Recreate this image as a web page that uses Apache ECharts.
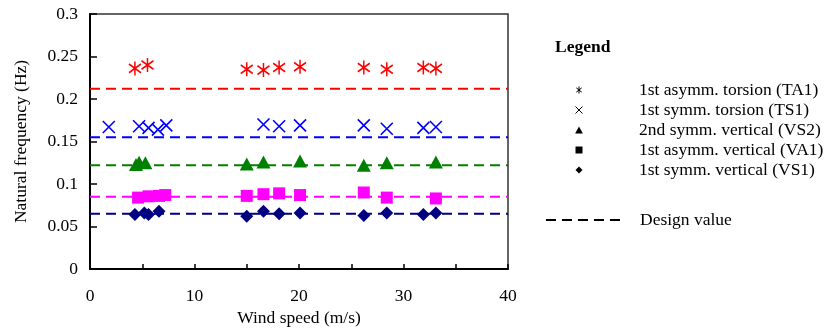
<!DOCTYPE html>
<html>
<head>
<meta charset="utf-8">
<script src="https://cdn.jsdelivr.net/npm/echarts@6.0.0/dist/echarts.min.js"></script>
<style>
  html, body { margin: 0; padding: 0; background: #fff; }
  #main { width: 828px; height: 329px; }
</style>
</head>
<body>
<div id="main"></div>
<script>
var dom = document.getElementById('main');
var myChart = echarts.init(dom);

// mode names
var modeNames = ['1st asymm. torsion (TA1)', '1st symm. torsion (TS1)', '2nd symm. vertical (VS2)',
                 '1st asymm. vertical (VA1)', '1st symm. vertical (VS1)'];

// measured points, wind speed (m/s) and frequency (Hz)
var windTA1 = [4.3, 5.5, 15.0, 16.6, 18.1, 20.1, 26.2, 28.4, 31.9, 33.1];
var freqTA1 = [0.236, 0.240, 0.235, 0.234, 0.237, 0.238, 0.237, 0.235, 0.237, 0.236];

var windTS1 = [1.8, 4.7, 5.6, 6.5, 7.3, 16.6, 18.1, 20.1, 26.2, 28.4, 31.9, 33.1];
var freqTS1 = [0.167, 0.168, 0.166, 0.164, 0.169, 0.170, 0.168, 0.169, 0.169, 0.165, 0.166, 0.167];

var windVS2 = [4.4, 4.7, 5.3, 15.0, 16.6, 20.1, 26.2, 28.4, 33.1];
var freqVS2 = [0.123, 0.1255, 0.125, 0.1235, 0.126, 0.127, 0.122, 0.125, 0.126];

var windVA1 = [4.6, 5.6, 6.6, 7.2, 15.0, 16.6, 18.1, 20.1, 26.2, 28.4, 33.1];
var freqVA1 = [0.084, 0.0855, 0.086, 0.087, 0.086, 0.088, 0.089, 0.087, 0.090, 0.084, 0.083];

var windVS1 = [4.3, 5.2, 5.6, 6.6, 15.0, 16.6, 18.1, 20.1, 26.2, 28.4, 31.9, 33.1];
var freqVS1 = [0.064, 0.066, 0.064, 0.068, 0.062, 0.068, 0.065, 0.066, 0.063, 0.066, 0.064, 0.066];

// design values, same order as modes
var designValues = [0.212, 0.155, 0.122, 0.085, 0.065];

var xTicks = [0, 10, 20, 30, 40];

var colors = ['#ff0000', '#0000ff', '#008000', '#ff00ff', '#000080'];
var symbols = [
  'path://M5,0L5,13M0,2.5L10,10.5M0,10.5L10,2.5',
  'path://M0,0L10,10M0,10L10,0',
  'path://M5,0L10,9L0,9Z',
  'path://M0,0L10,0L10,10L0,10Z',
  'path://M5,0L10,5L5,10L0,5Z'
];
var symbolSizes = [[12, 14], 12, [14, 13], 12, 13];
var stroked = [true, true, false, false, false];

var winds = [windTA1, windTS1, windVS2, windVA1, windVS1];
var freqs = [freqTA1, freqTS1, freqVS2, freqVA1, freqVS1];

var font = 'Liberation Serif';

function pairs(xs, ys) {
  return xs.map(function (x, i) { return [x, ys[i]]; });
}

var series = [];
// design lines first so markers sit on top
designValues.forEach(function (v, i) {
  series.push({
    name: 'Design value',
    type: 'line',
    symbol: 'none',
    silent: true,
    z: 1,
    data: [[0, v], [40, v]],
    lineStyle: { color: colors[i], width: 2, type: [10, 6] },
    itemStyle: { color: colors[i] }
  });
});
modeNames.forEach(function (name, i) {
  series.push({
    name: name,
    type: 'scatter',
    z: 3,
    symbol: symbols[i],
    symbolSize: symbolSizes[i],
    data: pairs(winds[i], freqs[i]),
    itemStyle: stroked[i]
      ? { color: colors[i], borderColor: colors[i], borderWidth: 1.6, opacity: 1 }
      : { color: colors[i], borderWidth: 0, opacity: 1 }
  });
});

var legendData = modeNames.map(function (name, i) {
  return {
    name: name,
    itemStyle: stroked[i]
      ? { color: '#000', borderColor: '#000', borderWidth: 1 }
      : { color: '#000', borderWidth: 0 }
  };
});

option = {
  animation: false,
  backgroundColor: '#fff',
  textStyle: { fontFamily: font, color: '#000' },
  title: {
    text: 'Legend',
    left: 555,
    top: 38,
    padding: 0,
    textStyle: { fontFamily: font, fontSize: 17.5, fontWeight: 'bold', color: '#000' }
  },
  legend: [
    {
      orient: 'vertical',
      left: 575,
      top: 80,
      padding: 0,
      itemGap: 0,
      itemWidth: 110,
      itemHeight: 7,
      data: legendData,
      textStyle: { fontFamily: font, fontSize: 17.5, color: '#000', lineHeight: 20 }
    },
    {
      orient: 'vertical',
      left: 545,
      top: 210,
      padding: 0,
      itemWidth: 76,
      itemHeight: 14,
      data: [{
        name: 'Design value',
        lineStyle: { color: '#000', width: 2 },
        itemStyle: { color: 'rgba(0,0,0,0)', borderWidth: 0 }
      }],
      textStyle: { fontFamily: font, fontSize: 17.5, color: '#000', lineHeight: 20, padding: [0, 0, 0, 13] }
    }
  ],
  grid: {
    left: 90,
    right: 320,
    top: 14,
    bottom: 60,
    show: true,
    borderColor: '#333',
    borderWidth: 1.5,
    outerBoundsMode: 'none'
  },
  xAxis: {
    type: 'value',
    min: 0,
    max: 40,
    interval: 5,
    name: 'Wind speed (m/s)',
    nameLocation: 'middle',
    nameGap: 38,
    nameTextStyle: { fontFamily: font, fontSize: 17.5, color: '#000' },
    axisLine: { show: true, lineStyle: { color: '#000', width: 2 } },
    axisTick: { show: true, inside: true, length: 5, lineStyle: { color: '#000', width: 1.5 } },
    axisLabel: {
      margin: 18,
      fontFamily: font,
      fontSize: 17.5,
      color: '#000',
      formatter: function (v) { return xTicks.indexOf(v) >= 0 ? String(v) : ''; }
    },
    splitLine: { show: false }
  },
  yAxis: {
    type: 'value',
    min: 0,
    max: 0.3,
    interval: 0.05,
    name: 'Natural frequency (Hz)',
    nameLocation: 'middle',
    nameGap: 60,
    nameTextStyle: { fontFamily: font, fontSize: 17.5, color: '#000' },
    axisLine: { show: true, lineStyle: { color: '#000', width: 2 } },
    axisTick: { show: true, inside: true, length: 7, lineStyle: { color: '#000', width: 1.5 } },
    axisLabel: {
      margin: 12,
      fontFamily: font,
      fontSize: 17.5,
      color: '#000',
      formatter: function (v) { return String(+v.toFixed(2)); }
    },
    splitLine: { show: false }
  },
  series: series
};

if (option && typeof option === 'object') {
  myChart.setOption(option, true);
}
</script>
</body>
</html>
